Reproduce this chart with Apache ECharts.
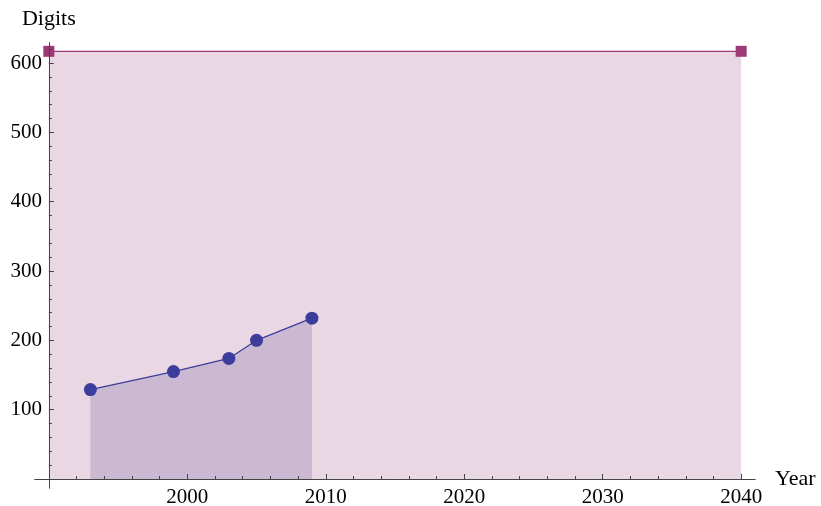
<!DOCTYPE html>
<html>
<head>
<meta charset="utf-8">
<script src="https://cdn.jsdelivr.net/npm/echarts@6/dist/echarts.min.js"></script>
<style>
html,body{margin:0;padding:0;background:#fff;}
#chart{width:821px;height:506px;}
</style>
</head>
<body>
<div id="chart"></div>
<script>
// Data
const years = [1993, 1999, 2003, 2005, 2009];
const digits = [129, 155, 174, 200, 232];
const targetYears = [1990, 2040];
const targetDigits = [617, 617];
const xMajorTicks = [2000, 2010, 2020, 2030, 2040];
const xMinorTicks = [1992, 1994, 1996, 1998, 2002, 2004, 2006, 2008, 2012, 2014, 2016, 2018, 2022, 2024, 2026, 2028, 2032, 2034, 2036, 2038];
const yMajorTicks = [100, 200, 300, 400, 500, 600];
const yMinorTicks = [20, 40, 60, 80, 120, 140, 160, 180, 220, 240, 260, 280, 320, 340, 360, 380, 420, 440, 460, 480, 520, 540, 560, 580, 620];

// axes cross at (X0, 0): x values are measured from X0 so the y axis can sit "on zero"
const X0 = 1990;
const xMin = 1989, xMax = 2041, yMin = -13, yMax = 629;
const off = v => v - X0;

const font = 'Liberation Serif, Times New Roman, serif';
const axisColor = '#444';

const chart = echarts.init(document.getElementById('chart'), null, {renderer: 'canvas'});

const baseX = {
  type: 'value', min: off(xMin), max: off(xMax), position: 'bottom', z: 10,
  axisLine: {show: true, onZero: true, lineStyle: {color: axisColor, width: 1}},
  splitLine: {show: false}
};
const baseY = {
  type: 'value', min: yMin, max: yMax, position: 'left', z: 10,
  axisLine: {show: true, onZero: true, lineStyle: {color: axisColor, width: 1}},
  splitLine: {show: false}
};

chart.setOption({
  animation: false,
  backgroundColor: '#ffffff',
  grid: {left: 35, right: 66, top: 43, bottom: 18, containLabel: false, outerBoundsMode: 'none'},
  xAxis: [
    Object.assign({}, baseX, {
      name: 'Year', nameLocation: 'end', nameGap: 20,
      nameTextStyle: {fontFamily: font, fontSize: 22, color: '#000', verticalAlign: 'middle', padding: [0,0,4,0]},
      axisTick: {show: true, inside: true, length: 5, customValues: xMajorTicks.map(off), lineStyle: {color: axisColor}},
      axisLabel: {show: true, margin: -1, customValues: xMajorTicks.map(off), formatter: v => String(Math.round(v + X0)),
        fontFamily: font, fontSize: 21, color: '#000'}
    }),
    Object.assign({}, baseX, {
      axisTick: {show: true, inside: true, length: 3, customValues: xMinorTicks.map(off), lineStyle: {color: axisColor}},
      axisLabel: {show: false}
    })
  ],
  yAxis: [
    Object.assign({}, baseY, {
      name: 'Digits', nameLocation: 'end', nameGap: 13,
      nameTextStyle: {fontFamily: font, fontSize: 22, color: '#000', align: 'center'},
      axisTick: {show: true, inside: true, length: 5, customValues: yMajorTicks, lineStyle: {color: axisColor}},
      axisLabel: {show: true, margin: -7, customValues: yMajorTicks, fontFamily: font, fontSize: 21, color: '#000'}
    }),
    Object.assign({}, baseY, {
      axisTick: {show: true, inside: true, length: 3, customValues: yMinorTicks, lineStyle: {color: axisColor}},
      axisLabel: {show: false}
    })
  ],
  series: [
    {
      type: 'line', xAxisIndex: 0, yAxisIndex: 0, z: 2,
      data: targetYears.map((y, i) => [off(y), targetDigits[i]]),
      symbol: 'rect', symbolSize: 11, showSymbol: true,
      itemStyle: {color: '#9c3a78', opacity: 1},
      lineStyle: {color: '#9c3a78', width: 1.2},
      areaStyle: {color: '#e9d8e3', opacity: 1}
    },
    {
      type: 'line', xAxisIndex: 0, yAxisIndex: 0, z: 3,
      data: years.map((y, i) => [off(y), digits[i]]),
      symbol: 'circle', symbolSize: 13, showSymbol: true,
      itemStyle: {color: '#3c3c9d', opacity: 1},
      lineStyle: {color: '#3c3c9d', width: 1.2},
      areaStyle: {color: '#cbb9d3', opacity: 1}
    }
  ]
});
</script>
</body>
</html>
